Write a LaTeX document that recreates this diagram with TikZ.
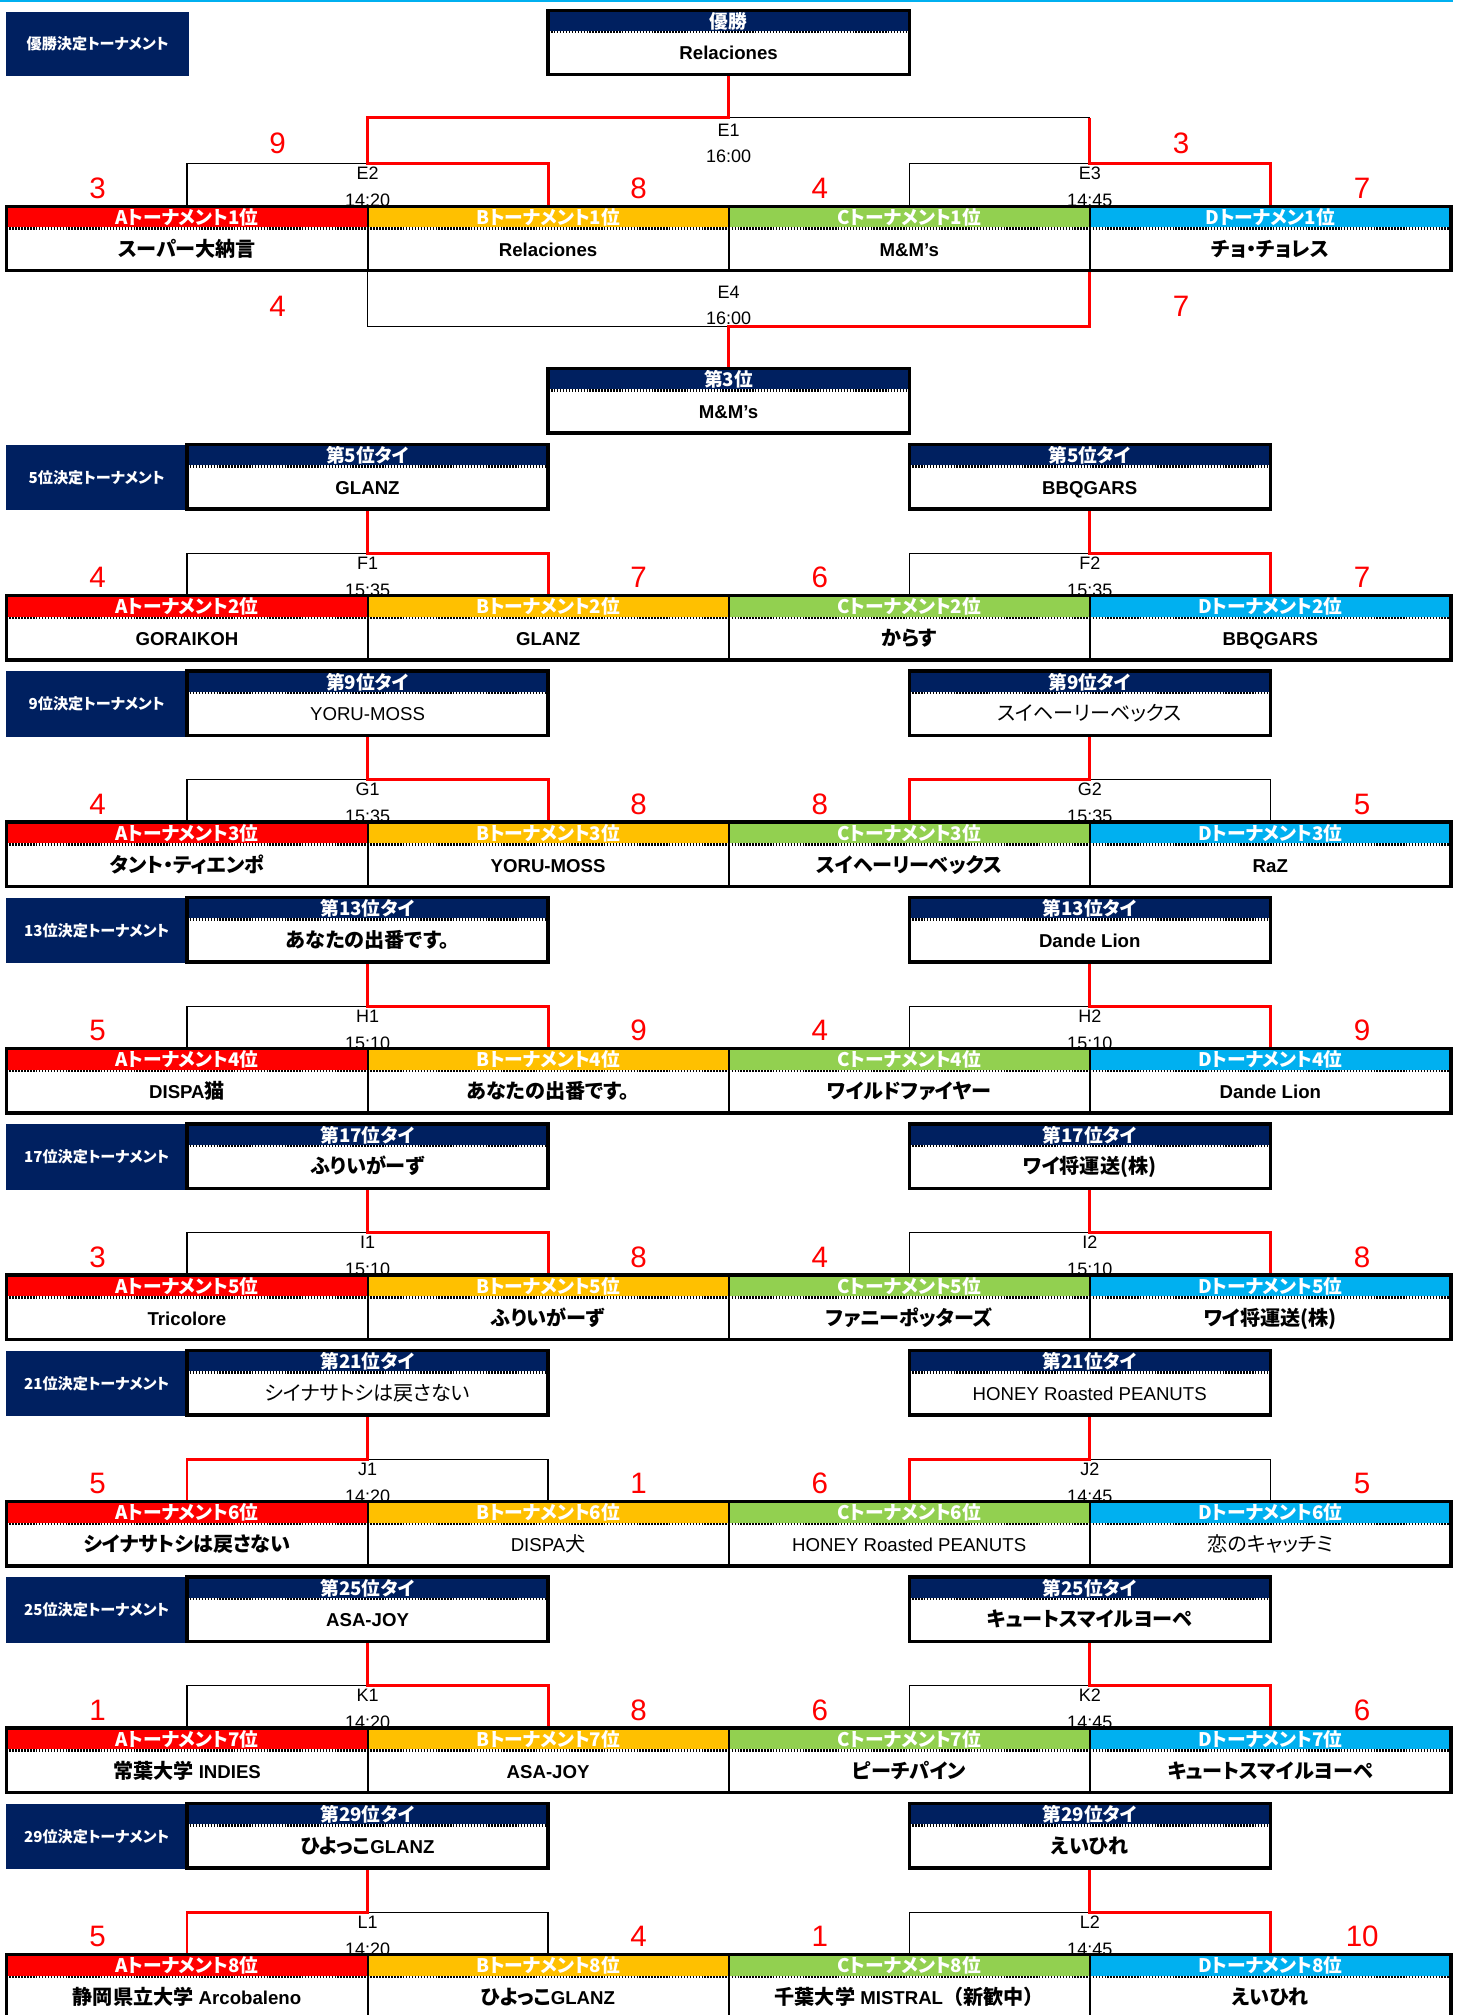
\documentclass[tikz,border=0pt]{standalone}
\usepackage{fontspec}
\setmainfont{Liberation Sans}
\newfontfamily\jpf{Noto Sans CJK JP}[RawFeature=+palt, Scale=1.08]
\newfontfamily\jpn{Noto Sans CJK JP}[Scale=1.08]
\newcommand\J[1]{{\jpf #1}}
\definecolor{navy}{HTML}{002060}
\definecolor{cA}{HTML}{FF0000}
\definecolor{cB}{HTML}{FFC000}
\definecolor{cC}{HTML}{92D050}
\definecolor{cD}{HTML}{00B0F0}
\pgfdeclarelayer{bg}
\pgfsetlayers{bg,main}
\tikzset{
 hdrtxt/.style={anchor=base, text=white, font=\jpf\bfseries\fontsize{13.5}{15}\selectfont, inner sep=0},
 teamtxt/.style={anchor=base, font=\bfseries\fontsize{14.5}{17}\selectfont, inner sep=0},
 cellbox/.style={draw, line width=1.6pt, minimum width=281pt, minimum height=50pt, inner sep=0, outer sep=0},
 wboxst/.style={draw, line width=2.6pt, minimum width=281pt, minimum height=50pt, inner sep=0, outer sep=0},
 lblbox/.style={fill=navy, text=white, font=\jpf\bfseries\fontsize{10.9}{13}\selectfont, minimum width=140.5pt, minimum height=51pt, inner sep=0, outer sep=0},
 dotln/.style={line width=2pt, dash pattern=on 1.15pt off 1.15pt},
 blk/.style={line width=1pt, black},
 win/.style={line width=2.3pt, red},
 score/.style={anchor=base, text=red, font=\fontsize{23}{26}\selectfont, inner sep=0},
 mlabel/.style={anchor=base, font=\fontsize{14}{16}\selectfont, inner sep=0, text=black},
}
% winner box: name, left x, top y, header, team
\newcommand\wbox[5]{%
  \fill[navy] (#2,#3) rectangle ++(281,16);
  \draw[dotln] (#2,#3+17) -- ++(281,0);
  \node[hdrtxt] at (#2+140.5,#3+14) {#4};
  \node[teamtxt] at (#2+140.5,#3+38.5) {#5};
  \node[wboxst] (#1) at (#2+140.5,#3+25) {};
}
% cell: name, center x, top y, colour, header, team
\newcommand\cell[6]{%
  \fill[#4] (#2-140.5,#3) rectangle ++(281,16.5);
  \draw[dotln] (#2-140.5,#3+17.5) -- ++(281,0);
  \node[hdrtxt] at (#2,#3+14) {#5};
  \node[teamtxt] at (#2,#3+39) {#6};
  \node[cellbox] (#1) at (#2,#3+25) {};
}
% row: n, top, rank, teams A-D
\newcommand\trow[7]{%
  \cell{r#1a}{145.5}{#2}{cA}{Aトーナメント#3位}{#4}
  \cell{r#1b}{426.5}{#2}{cB}{Bトーナメント#3位}{#5}
  \cell{r#1c}{707.5}{#2}{cC}{Cトーナメント#3位}{#6}
  \cell{r#1d}{988.5}{#2}{cD}{Dトーナメント#3位}{#7}
  \draw[line width=2.6pt] (r#1a.north west) rectangle (r#1d.south east);
}
% section boxes: n, box top, rank, left winner, right winner
\newcommand\secb[5]{%
  \node[lblbox] (lb#1) at (75.25,#2+25.5) {#3位決定トーナメント};
  \wbox{wl#1}{145.5}{#2}{第#3位タイ}{#4}
  \wbox{wr#1}{707.5}{#2}{第#3位タイ}{#5}
}
% brackets: n, row top, name L, time L, name R, time R, win L, win R
\newcommand\brk[8]{%
  \coordinate (m#1l) at (286,#2-33);
  \coordinate (m#1r) at (848,#2-33);
  \begin{pgfonlayer}{bg}
  \draw[blk] (r#1a.north) |- (m#1l) -| (r#1b.north);
  \draw[blk] (r#1c.north) |- (m#1r) -| (r#1d.north);
  \draw[win] (r#1#7.north) |- (m#1l) -- (wl#1.south);
  \draw[win] (r#1#8.north) |- (m#1r) -- (wr#1.south);
  \node[mlabel] (n#1l) at (286,#2-20.5) {#3};
  \node[mlabel] (t#1l) at (286,#2+0.5) {#4};
  \node[mlabel] (n#1r) at (848,#2-20.5) {#5};
  \node[mlabel] (t#1r) at (848,#2+0.5) {#6};
  \end{pgfonlayer}
}
% scores: n, row top, A..D
\newcommand\scores[6]{%
  \node[score] (s#1a) at (76,#2-6.2) {#3};
  \node[score] (s#1b) at (497,#2-6.2) {#4};
  \node[score] (s#1c) at (638,#2-6.2) {#5};
  \node[score] (s#1d) at (1060,#2-6.2) {#6};
}
\begin{document}
\begin{tikzpicture}[x=1pt,y=-1pt]
\useasboundingbox (0,0) rectangle (1138,1568);
\clip (0,0) rectangle (1138,1568);
\draw[cD, line width=1.6pt] (0,0.8) -- (1131,0.8);

% ---------- final section ----------
\node[lblbox, minimum width=142pt, minimum height=50.5pt] (t0) at (76,34.25) {優勝決定トーナメント};
\wbox{w0}{426.5}{8}{優勝}{Relaciones}
\cell{r1a}{145.5}{160.5}{cA}{Aトーナメント1位}{\J{スーパー大納言}}
\cell{r1b}{426.5}{160.5}{cB}{Bトーナメント1位}{Relaciones}
\cell{r1c}{707.5}{160.5}{cC}{Cトーナメント1位}{M\&M’s}
\cell{r1d}{988.5}{160.5}{cD}{Dトーナメン1位}{\J{チョ・チョレス}}
\draw[line width=2.6pt] (r1a.north west) rectangle (r1d.south east);
\wbox{w3}{426.5}{287}{第3位}{M\&M’s}

\coordinate (E1) at (567,91.5);
\coordinate (E2) at (286,127);
\coordinate (E3) at (848,127);
\coordinate (E4) at (567,254);
\begin{pgfonlayer}{bg}
\draw[blk] (r1a.north) |- (E2) -| (r1b.north);
\draw[blk] (r1c.north) |- (E3) -| (r1d.north);
\draw[blk] (E2) |- (E1) -| (E3);
\draw[blk] (r1a.south east) |- (E4) -| (r1d.south west);
\draw[win] (r1b.north) |- (E2) |- (E1) -- (w0.south);
\draw[win] (r1d.north) |- (E3) -- (E3 |- E1);
\draw[win] (r1d.south west) |- (E4) -- (w3.north);
\node[mlabel] (nE1) at (567,106) {E1};
\node[mlabel] (tE1) at (567,126.5) {16:00};
\node[mlabel] (nE2) at (286,139.5) {E2};
\node[mlabel] (tE2) at (286,160.8) {14:20};
\node[mlabel] (nE3) at (848,139.5) {E3};
\node[mlabel] (tE3) at (848,160.8) {14:45};
\node[mlabel] (nE4) at (567,232) {E4};
\node[mlabel] (tE4) at (567,252.5) {16:00};
\end{pgfonlayer}
\node[score] (sE1l) at (216,119.3) {9};
\node[score] (sE1r) at (919,119.3) {3};
\scores{1}{160.5}{3}{8}{4}{7}
\node[score] (sE4l) at (216,246.3) {4};
\node[score] (sE4r) at (919,246.3) {7};

% ---------- 5th ----------
\secb{2}{346}{5}{GLANZ}{BBQGARS}
\trow{2}{463.5}{2}{GORAIKOH}{GLANZ}{\J{からす}}{BBQGARS}
\brk{2}{463.5}{F1}{15:35}{F2}{15:35}{b}{d}
\scores{2}{463.5}{4}{7}{6}{7}

% ---------- 9th ----------
\secb{3}{522.25}{9}{\mdseries YORU-MOSS}{\mdseries\J{スイヘーリーベックス}}
\trow{3}{639.75}{3}{\J{タント・ティエンポ}}{YORU-MOSS}{\J{スイヘーリーベックス}}{RaZ}
\brk{3}{639.75}{G1}{15:35}{G2}{15:35}{b}{c}
\scores{3}{639.75}{4}{8}{8}{5}

% ---------- 13th ----------
\secb{4}{698.5}{13}{\J{あなたの出番です。}}{Dande Lion}
\trow{4}{816}{4}{DISPA\J{猫}}{\J{あなたの出番です。}}{\J{ワイルドファイヤー}}{Dande Lion}
\brk{4}{816}{H1}{15:10}{H2}{15:10}{b}{d}
\scores{4}{816}{5}{9}{4}{9}

% ---------- 17th ----------
\secb{5}{874.75}{17}{\J{ふりいがーず}}{\J{ワイ将運送(株)}}
\trow{5}{992.25}{5}{Tricolore}{\J{ふりいがーず}}{\J{ファニーポッターズ}}{\J{ワイ将運送(株)}}
\brk{5}{992.25}{I1}{15:10}{I2}{15:10}{b}{d}
\scores{5}{992.25}{3}{8}{4}{8}

% ---------- 21st ----------
\secb{6}{1051}{21}{\mdseries\J{シイナサトシは戻さない}}{\mdseries HONEY Roasted PEANUTS}
\trow{6}{1168.5}{6}{\J{シイナサトシは戻さない}}{\mdseries DISPA\J{犬}}{\mdseries HONEY Roasted PEANUTS}{\mdseries\J{恋のキャッチミ}}
\brk{6}{1168.5}{J1}{14:20}{J2}{14:45}{a}{c}
\scores{6}{1168.5}{5}{1}{6}{5}

% ---------- 25th ----------
\secb{7}{1227.25}{25}{ASA-JOY}{\J{キュートスマイルヨーペ}}
\trow{7}{1344.75}{7}{\J{常葉大学} INDIES}{ASA-JOY}{\J{ピーチパイン}}{\J{キュートスマイルヨーペ}}
\brk{7}{1344.75}{K1}{14:20}{K2}{14:45}{b}{d}
\scores{7}{1344.75}{1}{8}{6}{6}

% ---------- 29th ----------
\secb{8}{1403.5}{29}{\J{ひよっこ}GLANZ}{\J{えいひれ}}
\trow{8}{1521}{8}{\J{静岡県立大学} Arcobaleno}{\J{ひよっこ}GLANZ}{\J{千葉大学} MISTRAL{\jpn （新歓中）}}{\J{えいひれ}}
\brk{8}{1521}{L1}{14:20}{L2}{14:45}{a}{d}
\scores{8}{1521}{5}{4}{1}{10}
\end{tikzpicture}
\end{document}
